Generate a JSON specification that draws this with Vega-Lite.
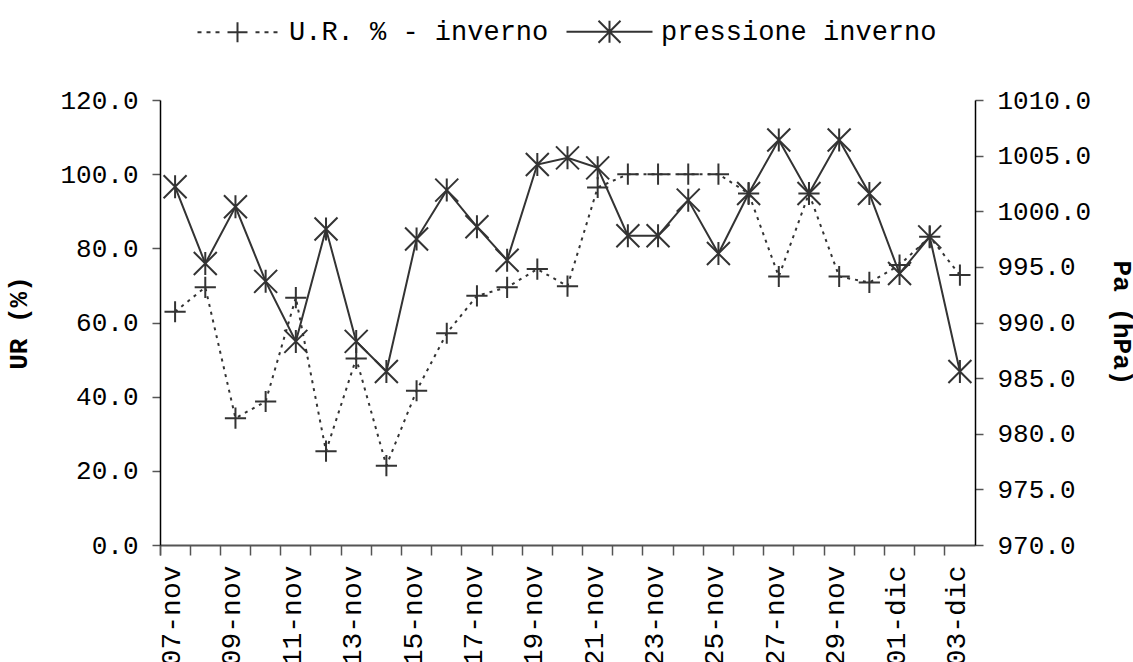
{
  "$schema": "https://vega.github.io/schema/vega-lite/v6.json",
  "width": 815,
  "height": 445,
  "autosize": {"type": "none"},
  "padding": {"left": 160, "top": 100, "right": 158, "bottom": 117},
  "background": "white",
  "config": {
    "view": {"stroke": null},
    "font": "Liberation Mono",
    "axis": {"labelFont": "Liberation Mono", "titleFont": "Liberation Mono", "grid": false, "labelColor": "#000", "titleColor": "#000", "domainColor": "#000", "domainWidth": 1.5, "tickColor": "#555", "tickWidth": 1.5}
  },
  "data": {"values": [
    {"date": "07-nov", "ur": 62.9, "pa": 1002.2},
    {"date": "08-nov", "ur": 69.5, "pa": 995.3},
    {"date": "09-nov", "ur": 34.2, "pa": 1000.4},
    {"date": "10-nov", "ur": 38.7, "pa": 993.7},
    {"date": "11-nov", "ur": 66.7, "pa": 988.3},
    {"date": "12-nov", "ur": 25.3, "pa": 998.4},
    {"date": "13-nov", "ur": 50.3, "pa": 988.3},
    {"date": "14-nov", "ur": 21.4, "pa": 985.6},
    {"date": "15-nov", "ur": 41.6, "pa": 997.5},
    {"date": "16-nov", "ur": 57.1, "pa": 1001.9},
    {"date": "17-nov", "ur": 67.2, "pa": 998.6},
    {"date": "18-nov", "ur": 69.5, "pa": 995.6},
    {"date": "19-nov", "ur": 74.4, "pa": 1004.2},
    {"date": "20-nov", "ur": 69.8, "pa": 1004.8},
    {"date": "21-nov", "ur": 96.4, "pa": 1003.9},
    {"date": "22-nov", "ur": 100.0, "pa": 997.8},
    {"date": "23-nov", "ur": 100.0, "pa": 997.8},
    {"date": "24-nov", "ur": 100.0, "pa": 1001.0},
    {"date": "25-nov", "ur": 100.0, "pa": 996.2},
    {"date": "26-nov", "ur": 94.8, "pa": 1001.6},
    {"date": "27-nov", "ur": 72.4, "pa": 1006.4},
    {"date": "28-nov", "ur": 94.8, "pa": 1001.6},
    {"date": "29-nov", "ur": 72.4, "pa": 1006.4},
    {"date": "30-nov", "ur": 70.8, "pa": 1001.6},
    {"date": "01-dic", "ur": 75.5, "pa": 994.4},
    {"date": "02-dic", "ur": 83.1, "pa": 997.7},
    {"date": "03-dic", "ur": 72.8, "pa": 985.6}
  ]},
  "encoding": {
    "x": {
      "field": "date", "type": "ordinal", "sort": null, "bandPosition": 0.5,
      "scale": {"type": "band", "paddingInner": 0, "paddingOuter": 0},
      "axis": {
        "title": null, "bandPosition": 0, "tickExtra": true, "tickSize": 10, "labelOffset": -3,
        "labelAngle": -90, "labelAlign": "right", "labelBaseline": "middle", "labelPadding": 10,
        "labelFontSize": 28, "labelOverlap": false, "domainColor": "#555", "domainWidth": 2,
        "labelExpr": "indexof(['07-nov','09-nov','11-nov','13-nov','15-nov','17-nov','19-nov','21-nov','23-nov','25-nov','27-nov','29-nov','01-dic','03-dic'], datum.value) >= 0 ? datum.value : ''"
      }
    }
  },
  "layer": [
    {
      "encoding": {
        "y": {
          "field": "ur", "type": "quantitative",
          "scale": {"domain": [0, 120], "nice": false, "zero": false},
          "axis": {"orient": "left", "values": [0, 20, 40, 60, 80, 100, 120], "format": ".1f", "title": "UR (%)",
            "titleFontWeight": "bold", "titleFontSize": 26, "labelFontSize": 26, "tickSize": 8, "labelPadding": 14, "titlePadding": 28}
        }
      },
      "layer": [
        {"mark": {"type": "line", "stroke": "#333", "strokeWidth": 2, "strokeDash": [3, 5]},
         "encoding": {"color": {"datum": "U.R. % - inverno", "type": "nominal",
           "scale": {"domain": ["U.R. % - inverno", "pressione inverno"], "range": ["#333333", "#333333"]},
           "legend": {
             "orient": "none", "direction": "horizontal", "legendX": 64, "legendY": -82, "title": null, "padding": 0,
             "labelFont": "Liberation Mono", "labelFontSize": 27, "labelColor": "#000", "labelOffset": 38, "labelLimit": 600, "columnPadding": 13,
             "symbolSize": 400, "symbolStrokeWidth": 2, "symbolStrokeColor": "#333", "symbolFillColor": "transparent",
             "encode": {"symbols": {"update": {
               "shape": {"signal": "datum.value == 'pressione inverno' ? 'M-4.3,0L4.3,0M-1.1,-1.1L1.1,1.1M-1.1,1.1L1.1,-1.1M0,-1.1L0,1.1' : 'M-4,0L-3.6,0M-3.1,0L-2.7,0M-2.2,0L-1.8,0M-1,0L1,0M0,-1L0,1M1.8,0L2.2,0M2.7,0L3.1,0M3.6,0L4,0'"},
               "strokeDash": {"value": []},
               "fill": {"value": "transparent"},
               "stroke": {"value": "#333"}
             }}}
           }}}},
        {"mark": {"type": "point", "shape": "M-1,0L1,0M0,-1L0,1", "size": 450, "filled": false, "stroke": "#333", "strokeWidth": 2, "opacity": 1}}
      ]
    },
    {
      "encoding": {
        "y": {
          "field": "pa", "type": "quantitative",
          "scale": {"domain": [970, 1010], "nice": false, "zero": false},
          "axis": {"orient": "right", "values": [970, 975, 980, 985, 990, 995, 1000, 1005, 1010], "format": ".1f", "title": "Pa (hPa)",
            "titleFontWeight": "bold", "titleFontSize": 26, "labelFontSize": 26, "tickSize": 8, "labelPadding": 14, "titlePadding": 18}
        }
      },
      "layer": [
        {"mark": {"type": "line", "stroke": "#333", "strokeWidth": 2},
         "encoding": {"color": {"datum": "pressione inverno", "type": "nominal"}}},
        {"mark": {"type": "point", "shape": "M-1,-1L1,1M-1,1L1,-1M0,-1L0,1", "size": 529, "filled": false, "stroke": "#333", "strokeWidth": 2, "opacity": 1}}
      ]
    }
  ],
  "resolve": {"scale": {"y": "independent"}}
}
